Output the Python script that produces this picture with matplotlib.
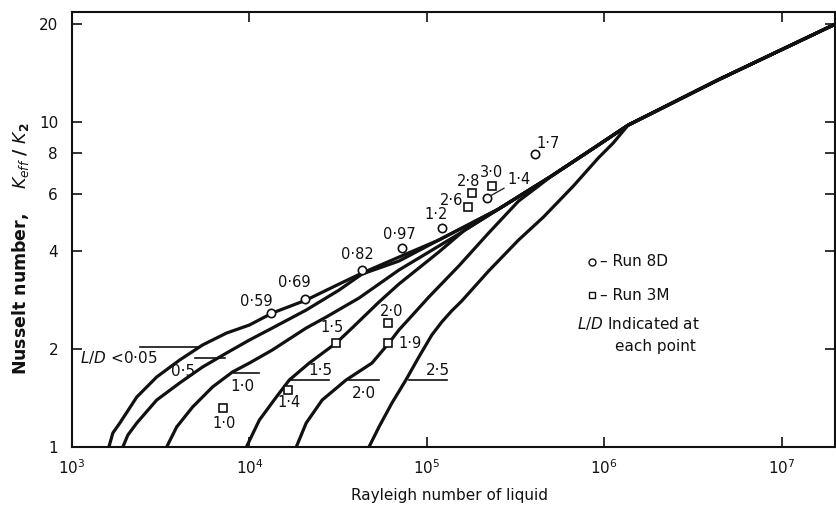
import matplotlib.pyplot as plt
from matplotlib.ticker import NullLocator

plt.rcParams['font.family'] = 'DejaVu Sans'
plt.rcParams['mathtext.default'] = 'regular'

# upper line shared by all curves (this is also the L/D < 0.05 curve)
env_x = [1614, 1699, 1861, 2318, 3002, 4044, 5445, 7429, 10000, 13460, 20900, 32030,
         43130, 69620, 116800, 253800, 503800, 925500, 1364000, 4370000, 20000000]
env_y = [1.0, 1.104, 1.185, 1.424, 1.641, 1.850, 2.058, 2.239, 2.370, 2.580, 2.828, 3.167,
         3.422, 3.832, 4.323, 5.383, 6.797, 8.463, 9.748, 13.41, 19.9]

# lower branches of the other curves, before they join the upper line
b05_x = [1934, 2064, 2318, 3002, 4044, 5445, 7429, 10000, 13460, 20900, 32030, 43130, 69620]
b05_y = [1.0, 1.088, 1.185, 1.394, 1.573, 1.761, 1.944, 2.131, 2.320, 2.635, 3.035, 3.399, 3.726]

b10_x = [3417, 3890, 4784, 6197, 8026, 10000, 13460, 20900, 27080, 41500, 53740,
         69620, 90190, 116800, 151300]
b10_y = [1.0, 1.152, 1.327, 1.529, 1.700, 1.811, 1.986, 2.320, 2.507, 2.869, 3.167,
         3.497, 3.806, 4.143, 4.510]

b15_x = [9618, 11380, 14180, 16780, 21740, 30820, 37900, 53740, 69620, 90190, 116800, 163500]
b15_y = [1.0, 1.210, 1.424, 1.606, 1.811, 2.086, 2.320, 2.788, 3.167, 3.546, 3.971, 4.640]

b20_x = [18370, 20900, 25710, 35060, 49090, 61150, 69620, 79240, 102600, 151300,
         222900, 328800, 425800]
b20_y = [1.0, 1.185, 1.394, 1.606, 1.811, 2.086, 2.288, 2.472, 2.888, 3.596,
         4.542, 5.694, 6.333]

b25_x = [47220, 53740, 63600, 76210, 90190, 106700, 121400, 138100, 157300, 222900, 328800,
         454300, 669600, 925500, 1123000]
b25_y = [1.0, 1.152, 1.365, 1.606, 1.890, 2.208, 2.421, 2.619, 2.808, 3.471, 4.323,
         5.086, 6.333, 7.721, 8.584]

# curve labels: L/D text, marker line (x from, x to, y)
curve_ld = [r'$\mathit{L/D}$ <0·05', '0·5', '1·0', '1·5', '2·0', '2·5']
mark_x0 = [2410, 4910, 8240, 16780, 36470, 79240]
mark_x1 = [5240, 7240, 11380, 28100, 53740, 129500]
mark_y = [2.03, 1.88, 1.69, 1.61, 1.61, 1.61]
text_x = [1110, 4204, 9136, 25050, 44250, 115300]
text_y = [1.877, 1.70, 1.529, 1.724, 1.465, 1.724]

# experimental points
run8d_x = [13290, 20640, 43130, 72370, 121400, 217400, 409700]
run8d_y = [2.58, 2.85, 3.50, 4.09, 4.71, 5.82, 7.94]
run8d_ld = ['0·59', '0·69', '0·82', '0·97', '1·2', '1·4', '1·7']
run8d_off = [(-11, 8), (-8, 11.5), (-3.5, 11), (-2, 10), (-4, 9.5), (23, 13), (9, 8)]

run3m_x = [7140, 16560, 30820, 60390, 60390, 170000, 178900, 231800]
run3m_y = [1.32, 1.50, 2.09, 2.40, 2.09, 5.46, 6.03, 6.33]
run3m_ld = ['1·0', '1·4', '1·5', '2·0', '1·9', '2·6', '2·8', '3·0']
run3m_off = [(0.5, -11), (0.5, -9.5), (-3, 11), (3, 8.5), (16, -0.5), (-11.5, 5), (-2, 8), (0, 10)]


def join_envelope(bx, by):
    x = list(bx) + [v for v in env_x if v > bx[-1]]
    y = list(by) + [env_y[i] for i, v in enumerate(env_x) if v > bx[-1]]
    return x, y


fig = plt.figure(figsize=(8.36, 5.11), dpi=100)
ax = fig.add_axes([72 / 836, 64 / 511, 763 / 836, 435 / 511])
ax.set_xscale('log')
ax.set_yscale('log')
ax.set_xlim(1e3, 2e7)
ax.set_ylim(1, 21.7)

ink = '#111111'
ax.plot(env_x, env_y, color=ink, lw=2.3, solid_joinstyle='round')
for bx, by in [(b05_x, b05_y), (b10_x, b10_y), (b15_x, b15_y), (b20_x, b20_y), (b25_x, b25_y)]:
    cx, cy = join_envelope(bx, by)
    ax.plot(cx, cy, color=ink, lw=2.3, solid_joinstyle='round')

for i, lab in enumerate(curve_ld):
    ax.plot([mark_x0[i], mark_x1[i]], [mark_y[i], mark_y[i]], color=ink, lw=1.2)
    ax.text(text_x[i], text_y[i], lab, fontsize=11, color=ink,
            ha='left' if i == 0 else 'center', va='center')

ax.plot(run8d_x, run8d_y, 'o', ms=6, mfc='white', mec=ink, mew=1.2, ls='none')
ax.plot(run3m_x, run3m_y, 's', ms=5.5, mfc='white', mec=ink, mew=1.2, ls='none')

for i, lab in enumerate(run8d_ld):
    arrow = dict(arrowstyle='-', color=ink, lw=0.9, shrinkA=0, shrinkB=4) if lab == '1·4' else None
    ax.annotate(lab, (run8d_x[i], run8d_y[i]), xytext=run8d_off[i], textcoords='offset points',
                ha='center', va='center', fontsize=10.5, color=ink, arrowprops=arrow)
for i, lab in enumerate(run3m_ld):
    ax.annotate(lab, (run3m_x[i], run3m_y[i]), xytext=run3m_off[i], textcoords='offset points',
                ha='center', va='center', fontsize=10.5, color=ink)

# key
ax.plot([0.6815], [0.4253], 'o', ms=5, mfc='white', mec=ink, mew=1.0, transform=ax.transAxes)
ax.plot([0.6815], [0.3494], 's', ms=4.5, mfc='white', mec=ink, mew=1.0, transform=ax.transAxes)
ax.text(0.692, 0.4253, '– Run 8D', transform=ax.transAxes, fontsize=11, va='center', color=ink)
ax.text(0.692, 0.3494, '– Run 3M', transform=ax.transAxes, fontsize=11, va='center', color=ink)
ax.text(0.662, 0.285, r'$\mathit{L/D}$ Indicated at', transform=ax.transAxes, fontsize=11,
        va='center', color=ink)
ax.text(0.7117, 0.2299, 'each point', transform=ax.transAxes, fontsize=11, va='center', color=ink)

ax.set_xticks([1e3, 1e4, 1e5, 1e6, 1e7])
ax.set_xticklabels([r'$10^3$', r'$10^4$', r'$10^5$', r'$10^6$', r'$10^7$'])
ax.set_yticks([1, 2, 4, 6, 8, 10, 20])
ax.set_yticklabels(['1', '2', '4', '6', '8', '10', '20'])
ax.xaxis.set_minor_locator(NullLocator())
ax.yaxis.set_minor_locator(NullLocator())
ax.tick_params(direction='in', top=True, right=True, length=7, width=1.2,
               labelsize=11, colors=ink)
ax.tick_params(axis='y', pad=10)
ax.tick_params(axis='x', pad=8)
for s in ax.spines.values():
    s.set_linewidth(1.5)
    s.set_color(ink)

ax.set_xlabel('Rayleigh number of liquid', fontsize=11, color=ink)
ax.xaxis.set_label_coords(0.495, -0.095)
ax.set_ylabel(r'Nusselt number,    $\mathit{K}_{\mathit{eff}}\ /\ \mathit{K}_{2}$',
              fontsize=12.5, fontweight='bold', color=ink)
ax.yaxis.set_label_coords(-0.054, 0.455)

fig.savefig('out.png', dpi=100)
